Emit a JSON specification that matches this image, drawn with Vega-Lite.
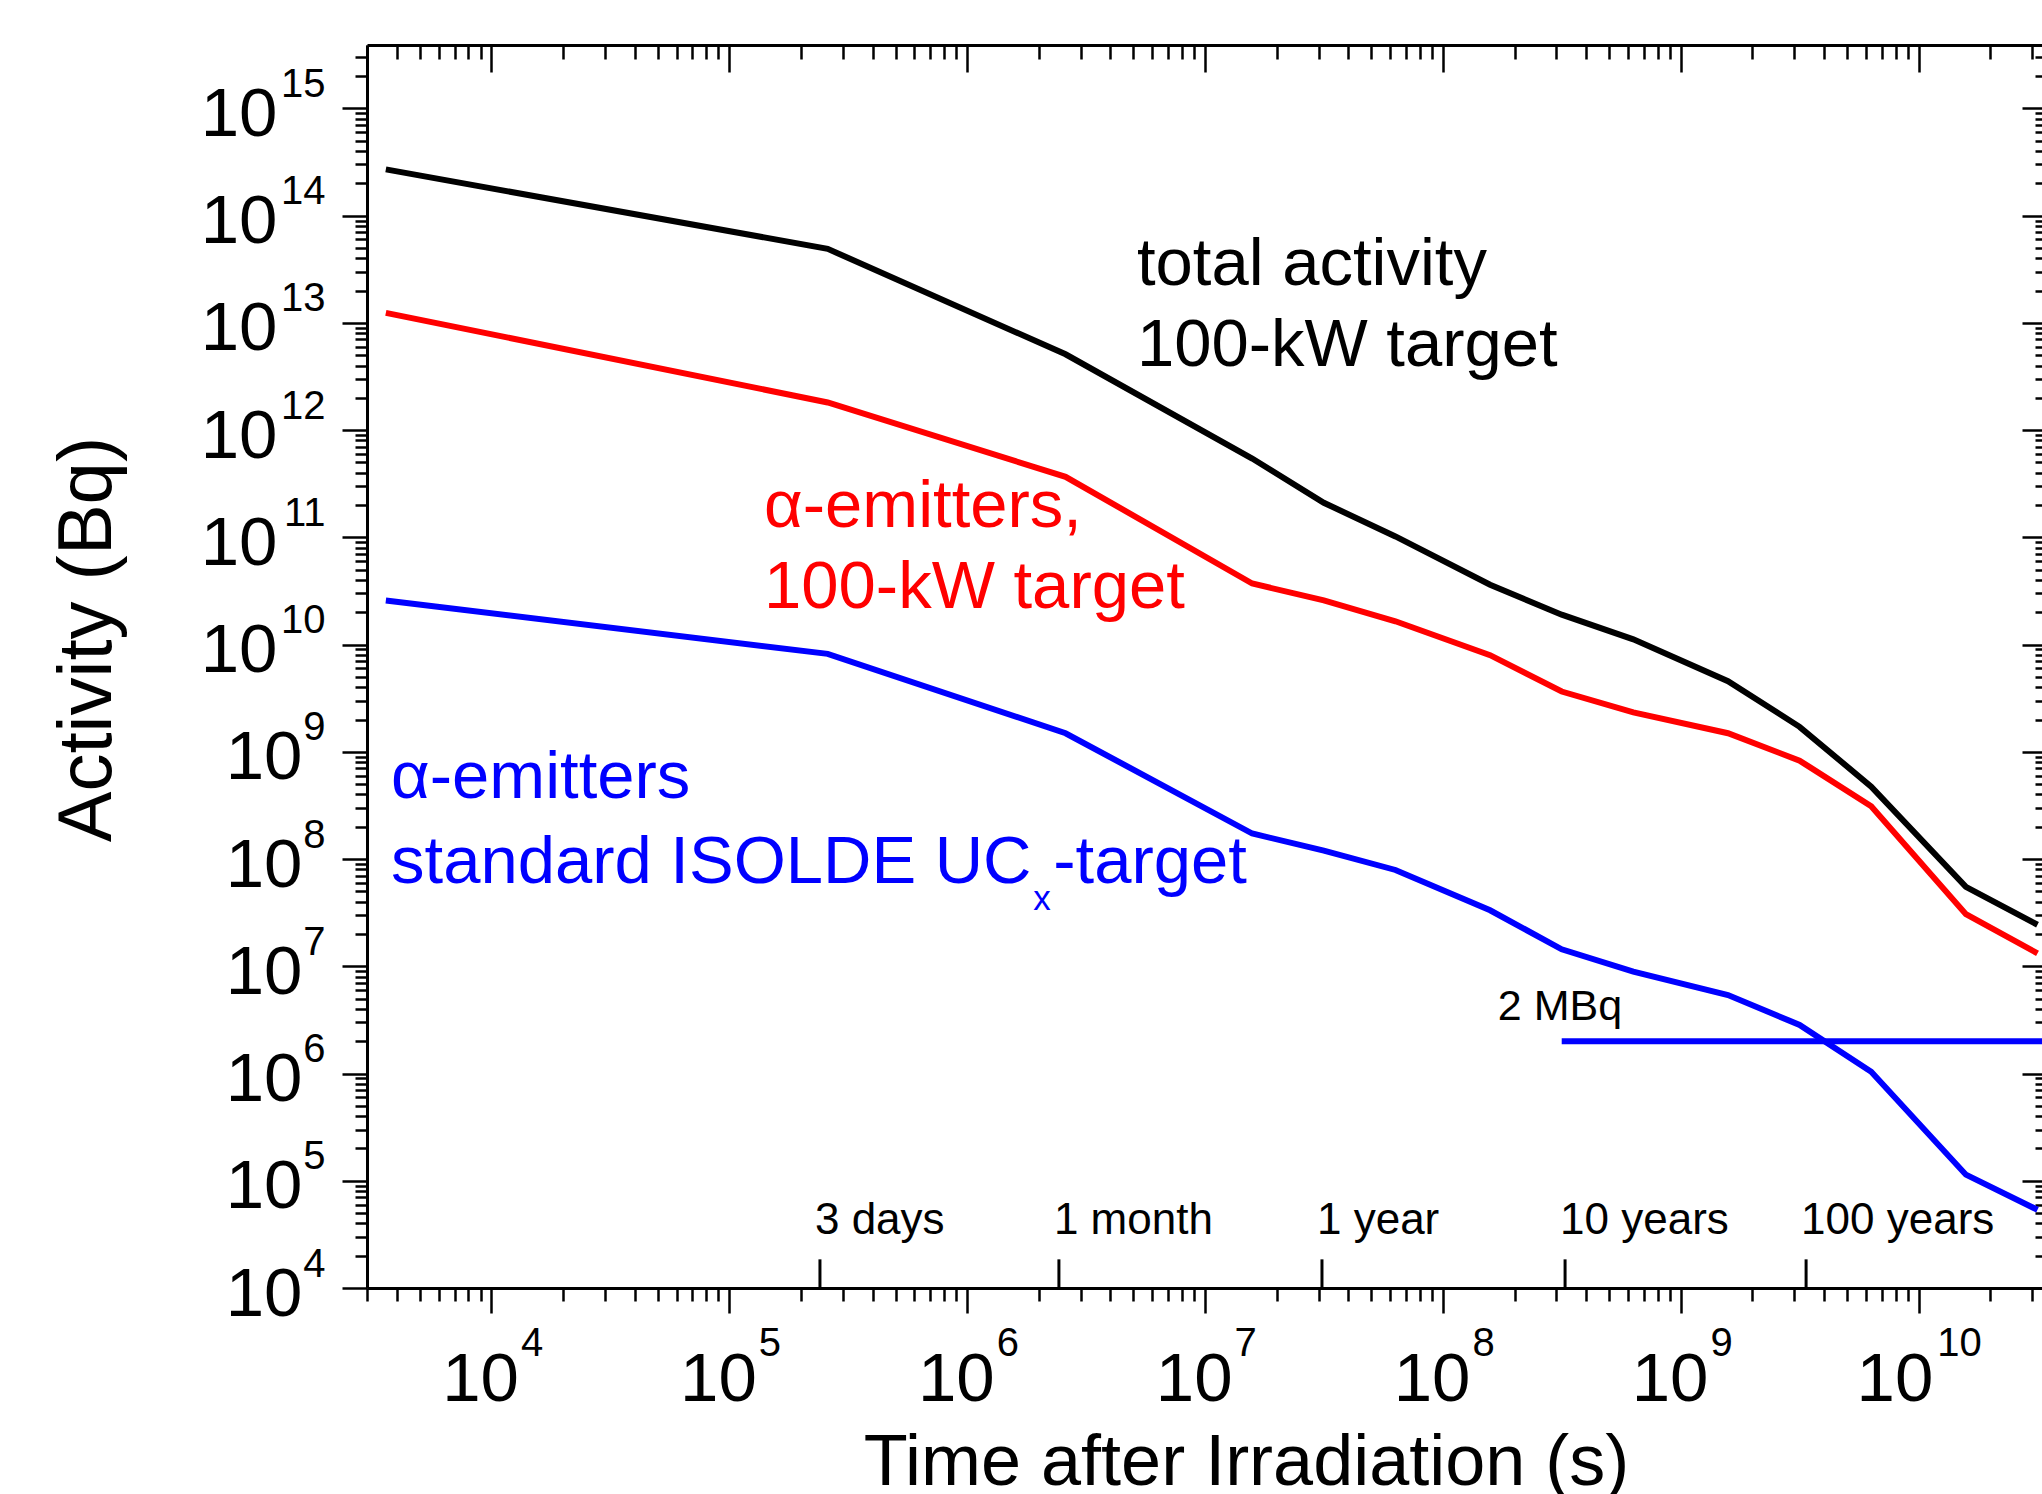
{
  "$schema": "https://vega.github.io/schema/vega-lite/v6.json",
  "autosize": {"type": "none"},
  "padding": {"left": 367, "top": 45, "right": 0, "bottom": 206},
  "width": 1675,
  "height": 1243,
  "background": "white",
  "config": {
    "view": {"stroke": null},
    "font": "Liberation Sans",
    "axis": {
      "grid": false,
      "labelFont": "Liberation Sans",
      "titleFont": "Liberation Sans",
      "labelColor": "black",
      "titleColor": "black",
      "tickColor": "black",
      "domainColor": "black",
      "labelOverlap": false,
      "labelFlush": false,
      "labelBound": false,
      "titleFontWeight": "normal"
    }
  },
  "datasets": {
    "curves": [
      {"t": 3600, "a": 2.70e14, "s": "total"},
      {"t": 259200, "a": 4.90e13, "s": "total"},
      {"t": 2592000, "a": 5.09e12, "s": "total"},
      {"t": 15778800, "a": 5.43e11, "s": "total"},
      {"t": 31557600, "a": 2.10e11, "s": "total"},
      {"t": 63115200, "a": 1.02e11, "s": "total"},
      {"t": 157788000, "a": 3.61e10, "s": "total"},
      {"t": 315576000, "a": 1.90e10, "s": "total"},
      {"t": 631152000, "a": 1.12e10, "s": "total"},
      {"t": 1577880000, "a": 4.56e9, "s": "total"},
      {"t": 3155760000, "a": 1.71e9, "s": "total"},
      {"t": 6311520000, "a": 4.73e8, "s": "total"},
      {"t": 15778800000, "a": 5.50e7, "s": "total"},
      {"t": 31557600000, "a": 2.44e7, "s": "total"},
      {"t": 3600, "a": 1.24e13, "s": "alpha100"},
      {"t": 259200, "a": 1.81e12, "s": "alpha100"},
      {"t": 2592000, "a": 3.67e11, "s": "alpha100"},
      {"t": 15778800, "a": 3.71e10, "s": "alpha100"},
      {"t": 31557600, "a": 2.58e10, "s": "alpha100"},
      {"t": 63115200, "a": 1.65e10, "s": "alpha100"},
      {"t": 157788000, "a": 7.96e9, "s": "alpha100"},
      {"t": 315576000, "a": 3.65e9, "s": "alpha100"},
      {"t": 631152000, "a": 2.33e9, "s": "alpha100"},
      {"t": 1577880000, "a": 1.49e9, "s": "alpha100"},
      {"t": 3155760000, "a": 8.28e8, "s": "alpha100"},
      {"t": 6311520000, "a": 3.11e8, "s": "alpha100"},
      {"t": 15778800000, "a": 3.06e7, "s": "alpha100"},
      {"t": 31557600000, "a": 1.32e7, "s": "alpha100"},
      {"t": 3600, "a": 2.58e10, "s": "alphaStd"},
      {"t": 259200, "a": 8.19e9, "s": "alphaStd"},
      {"t": 2592000, "a": 1.49e9, "s": "alphaStd"},
      {"t": 15778800, "a": 1.73e8, "s": "alphaStd"},
      {"t": 31557600, "a": 1.20e8, "s": "alphaStd"},
      {"t": 63115200, "a": 7.91e7, "s": "alphaStd"},
      {"t": 157788000, "a": 3.33e7, "s": "alphaStd"},
      {"t": 315576000, "a": 1.44e7, "s": "alphaStd"},
      {"t": 631152000, "a": 8.93e6, "s": "alphaStd"},
      {"t": 1577880000, "a": 5.40e6, "s": "alphaStd"},
      {"t": 3155760000, "a": 2.84e6, "s": "alphaStd"},
      {"t": 6311520000, "a": 1.04e6, "s": "alphaStd"},
      {"t": 15778800000, "a": 1.14e5, "s": "alphaStd"},
      {"t": 31557600000, "a": 5.36e4, "s": "alphaStd"}
    ],
    "threshold": [
      {"start": 315576000, "end": 3.296e10, "level": 2000000, "label": "2 MBq"}
    ],
    "markers": [
      {"t": 240500, "label": "3 days"},
      {"t": 2430000, "label": "1 month"},
      {"t": 31000000, "label": "1 year"},
      {"t": 326000000, "label": "10 years"},
      {"t": 3360000000, "label": "100 years"}
    ],
    "notes": [
      {"t": 5170000, "a": 2.25e13, "text": "total activity", "s": "total"},
      {"t": 5170000, "a": 3.96e12, "text": "100-kW target", "s": "total"},
      {"t": 140000, "a": 1.25e11, "text": "α-emitters,", "s": "alpha100"},
      {"t": 140000, "a": 2.19e10, "text": "100-kW target", "s": "alpha100"},
      {"t": 3785, "a": 3.71e8, "text": "α-emitters", "s": "alphaStd"},
      {"t": 3785, "a": 5.97e7, "text": "standard ISOLDE UC", "s": "alphaStd"},
      {"t": 2300000, "a": 5.97e7, "text": "-target", "s": "alphaStd"}
    ],
    "subscripts": [
      {"t": 1895000, "a": 3.35e7, "text": "x", "s": "alphaStd"}
    ],
    "levelnotes": [
      {"t": 170000000, "a": 3.16e6, "text": "2 MBq"}
    ]
  },
  "resolve": {"axis": {"x": "independent", "y": "independent"}},
  "layer": [
    {
      "data": {"name": "curves"},
      "mark": {"type": "line", "strokeWidth": 6},
      "encoding": {
        "x": {
          "field": "t", "type": "quantitative",
          "scale": {"type": "log", "domain": [3000, 3.296e10], "nice": false},
          "axis": {
            "orient": "bottom",
            "values": [3e3,4e3,5e3,6e3,7e3,8e3,9e3,1e4,2e4,3e4,4e4,5e4,6e4,7e4,8e4,9e4,1e5,2e5,3e5,4e5,5e5,6e5,7e5,8e5,9e5,1e6,2e6,3e6,4e6,5e6,6e6,7e6,8e6,9e6,1e7,2e7,3e7,4e7,5e7,6e7,7e7,8e7,9e7,1e8,2e8,3e8,4e8,5e8,6e8,7e8,8e8,9e8,1e9,2e9,3e9,4e9,5e9,6e9,7e9,8e9,9e9,1e10,2e10,3e10],
            "labels": false,
            "ticks": true,
            "tickSize": {"condition": {"test": "abs(log(datum.value)/LN10 - round(log(datum.value)/LN10)) < 0.001", "value": 25}, "value": 13},
            "tickWidth": 2.5,
            "domain": true,
            "domainWidth": 3,
            "title": "Time after Irradiation (s)",
            "titleFontSize": 72,
            "titleX": 879,
            "titleY": 196,
            "titleAlign": "center",
            "titleBaseline": "alphabetic"
          }
        },
        "y": {
          "field": "a", "type": "quantitative",
          "scale": {"type": "log", "domain": [1e4, 3.9e15], "nice": false},
          "axis": {
            "orient": "left",
            "values": [1e4,2e4,3e4,4e4,5e4,6e4,7e4,8e4,9e4,1e5,2e5,3e5,4e5,5e5,6e5,7e5,8e5,9e5,1e6,2e6,3e6,4e6,5e6,6e6,7e6,8e6,9e6,1e7,2e7,3e7,4e7,5e7,6e7,7e7,8e7,9e7,1e8,2e8,3e8,4e8,5e8,6e8,7e8,8e8,9e8,1e9,2e9,3e9,4e9,5e9,6e9,7e9,8e9,9e9,1e10,2e10,3e10,4e10,5e10,6e10,7e10,8e10,9e10,1e11,2e11,3e11,4e11,5e11,6e11,7e11,8e11,9e11,1e12,2e12,3e12,4e12,5e12,6e12,7e12,8e12,9e12,1e13,2e13,3e13,4e13,5e13,6e13,7e13,8e13,9e13,1e14,2e14,3e14,4e14,5e14,6e14,7e14,8e14,9e14,1e15,2e15,3e15],
            "labels": false,
            "ticks": true,
            "tickSize": {"condition": {"test": "abs(log(datum.value)/LN10 - round(log(datum.value)/LN10)) < 0.001", "value": 25}, "value": 12},
            "tickWidth": 2.5,
            "domain": true,
            "domainWidth": 3,
            "title": "Activity (Bq)",
            "titleFontSize": 76,
            "titleX": -257,
            "titleY": 594,
            "titleAlign": "center",
            "titleBaseline": "alphabetic"
          }
        },
        "color": {
          "field": "s", "type": "nominal",
          "scale": {"domain": ["total", "alpha100", "alphaStd"], "range": ["#000000", "#ff0000", "#0000ff"]},
          "legend": null
        }
      }
    },
    {
      "data": {"name": "threshold"},
      "mark": {"type": "rule", "color": "#0000ff", "strokeWidth": 6, "clip": true},
      "encoding": {
        "x": {
          "field": "start", "type": "quantitative",
          "scale": {"type": "log", "domain": [3000, 3.296e10], "nice": false},
          "axis": {
            "orient": "bottom",
            "values": [1e4,1e5,1e6,1e7,1e8,1e9,1e10],
            "ticks": false, "tickSize": 0, "domain": false,
            "labelExpr": "'10'",
            "labelFontSize": 69,
            "labelAlign": "right",
            "labelBaseline": "alphabetic",
            "labelPadding": 112,
            "labelOffset": {"condition": {"test": "datum.value >= 1e10", "value": 14}, "value": 27},
            "title": null
          }
        },
        "x2": {"field": "end"},
        "y": {
          "field": "level", "type": "quantitative",
          "scale": {"type": "log", "domain": [1e4, 3.9e15], "nice": false},
          "axis": {
            "orient": "left",
            "values": [1e4,1e5,1e6,1e7,1e8,1e9,1e10,1e11,1e12,1e13,1e14,1e15],
            "ticks": false, "tickSize": 0, "domain": false,
            "labelExpr": "'10'",
            "labelFontSize": 69,
            "labelAlign": "right",
            "labelBaseline": "alphabetic",
            "labelOffset": 27,
            "labelPadding": {"condition": {"test": "datum.value >= 1e10", "value": 90}, "value": 65},
            "title": null
          }
        }
      }
    },
    {
      "data": {"name": "markers"},
      "mark": {"type": "rule", "color": "#000000", "strokeWidth": 3},
      "encoding": {
        "x": {
          "field": "t", "type": "quantitative",
          "scale": {"type": "log", "domain": [3000, 3.296e10], "nice": false},
          "axis": {
            "orient": "bottom",
            "values": [1e4,1e5,1e6,1e7,1e8,1e9,1e10],
            "ticks": false, "tickSize": 0, "domain": false,
            "labelExpr": "'' + round(log(datum.value)/LN10)",
            "labelFontSize": 40,
            "labelAlign": "left",
            "labelBaseline": "alphabetic",
            "labelPadding": 67,
            "labelOffset": {"condition": {"test": "datum.value >= 1e10", "value": 18}, "value": 29},
            "title": null
          }
        },
        "y": {
          "datum": 10000, "type": "quantitative",
          "scale": {"type": "log", "domain": [1e4, 3.9e15], "nice": false},
          "axis": {
            "orient": "left",
            "values": [1e4,1e5,1e6,1e7,1e8,1e9,1e10,1e11,1e12,1e13,1e14,1e15],
            "ticks": false, "tickSize": 0, "domain": false,
            "labelExpr": "'' + round(log(datum.value)/LN10)",
            "labelFontSize": 40,
            "labelAlign": "right",
            "labelBaseline": "alphabetic",
            "labelOffset": -12,
            "labelPadding": 42,
            "title": null
          }
        },
        "y2": {"datum": 18500}
      }
    },
    {
      "data": {"name": "markers"},
      "mark": {"type": "text", "color": "#000000", "fontSize": 44, "align": "left", "baseline": "alphabetic", "dx": -5},
      "encoding": {
        "x": {
          "field": "t", "type": "quantitative",
          "scale": {"type": "log", "domain": [3000, 3.296e10], "nice": false},
          "axis": {
            "orient": "top",
            "values": [3e3,4e3,5e3,6e3,7e3,8e3,9e3,1e4,2e4,3e4,4e4,5e4,6e4,7e4,8e4,9e4,1e5,2e5,3e5,4e5,5e5,6e5,7e5,8e5,9e5,1e6,2e6,3e6,4e6,5e6,6e6,7e6,8e6,9e6,1e7,2e7,3e7,4e7,5e7,6e7,7e7,8e7,9e7,1e8,2e8,3e8,4e8,5e8,6e8,7e8,8e8,9e8,1e9,2e9,3e9,4e9,5e9,6e9,7e9,8e9,9e9,1e10,2e10,3e10],
            "labels": false,
            "tickSize": {"condition": {"test": "abs(log(datum.value)/LN10 - round(log(datum.value)/LN10)) < 0.001", "value": -27}, "value": -14},
            "tickWidth": 2.5,
            "domain": true,
            "domainWidth": 3,
            "title": null
          }
        },
        "y": {
          "datum": 31900, "type": "quantitative",
          "scale": {"type": "log", "domain": [1e4, 3.9e15], "nice": false},
          "axis": {
            "orient": "right",
            "values": [1e4,2e4,3e4,4e4,5e4,6e4,7e4,8e4,9e4,1e5,2e5,3e5,4e5,5e5,6e5,7e5,8e5,9e5,1e6,2e6,3e6,4e6,5e6,6e6,7e6,8e6,9e6,1e7,2e7,3e7,4e7,5e7,6e7,7e7,8e7,9e7,1e8,2e8,3e8,4e8,5e8,6e8,7e8,8e8,9e8,1e9,2e9,3e9,4e9,5e9,6e9,7e9,8e9,9e9,1e10,2e10,3e10,4e10,5e10,6e10,7e10,8e10,9e10,1e11,2e11,3e11,4e11,5e11,6e11,7e11,8e11,9e11,1e12,2e12,3e12,4e12,5e12,6e12,7e12,8e12,9e12,1e13,2e13,3e13,4e13,5e13,6e13,7e13,8e13,9e13,1e14,2e14,3e14,4e14,5e14,6e14,7e14,8e14,9e14,1e15,2e15,3e15],
            "labels": false,
            "tickSize": {"condition": {"test": "abs(log(datum.value)/LN10 - round(log(datum.value)/LN10)) < 0.001", "value": -20}, "value": -7},
            "tickWidth": 2.5,
            "domain": false,
            "title": null
          }
        },
        "text": {"field": "label"}
      }
    },
    {
      "data": {"name": "notes"},
      "mark": {"type": "text", "fontSize": 67, "align": "left", "baseline": "alphabetic"},
      "encoding": {
        "x": {"field": "t", "type": "quantitative", "scale": {"type": "log", "domain": [3000, 3.296e10], "nice": false}, "axis": null},
        "y": {"field": "a", "type": "quantitative", "scale": {"type": "log", "domain": [1e4, 3.9e15], "nice": false}, "axis": null},
        "text": {"field": "text"},
        "color": {"field": "s", "type": "nominal", "scale": {"domain": ["total", "alpha100", "alphaStd"], "range": ["#000000", "#ff0000", "#0000ff"]}, "legend": null}
      }
    },
    {
      "data": {"name": "subscripts"},
      "mark": {"type": "text", "fontSize": 35, "align": "left", "baseline": "alphabetic"},
      "encoding": {
        "x": {"field": "t", "type": "quantitative", "scale": {"type": "log", "domain": [3000, 3.296e10], "nice": false}, "axis": null},
        "y": {"field": "a", "type": "quantitative", "scale": {"type": "log", "domain": [1e4, 3.9e15], "nice": false}, "axis": null},
        "text": {"field": "text"},
        "color": {"field": "s", "type": "nominal", "scale": {"domain": ["total", "alpha100", "alphaStd"], "range": ["#000000", "#ff0000", "#0000ff"]}, "legend": null}
      }
    },
    {
      "data": {"name": "levelnotes"},
      "mark": {"type": "text", "fontSize": 43, "align": "left", "baseline": "alphabetic", "color": "#000000"},
      "encoding": {
        "x": {"field": "t", "type": "quantitative", "scale": {"type": "log", "domain": [3000, 3.296e10], "nice": false}, "axis": null},
        "y": {"field": "a", "type": "quantitative", "scale": {"type": "log", "domain": [1e4, 3.9e15], "nice": false}, "axis": null},
        "text": {"field": "text"}
      }
    }
  ]
}
